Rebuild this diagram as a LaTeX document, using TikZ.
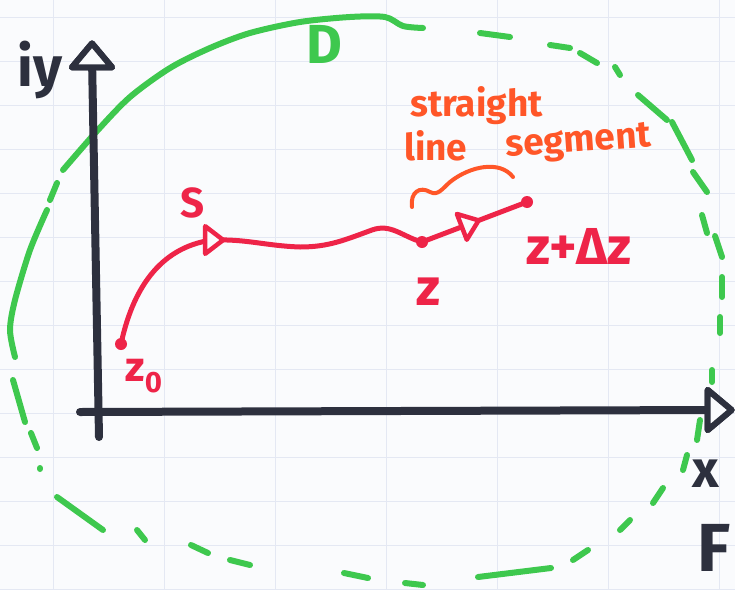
\documentclass[tikz,border=0pt]{standalone}
\usepackage{fontspec}
\setmainfont{Fira Sans}
\usetikzlibrary{arrows.meta,positioning,calc,shapes.geometric}
\definecolor{ink}{RGB}{45,48,62}
\definecolor{pen}{RGB}{238,36,72}
\definecolor{note}{RGB}{255,86,40}
\definecolor{dom}{RGB}{62,200,78}
\definecolor{paper}{RGB}{250,251,253}
\definecolor{rule}{RGB}{228,232,243}
\tikzset{
  axis/.style={draw=ink,line width=8pt,line cap=round},
  axhead/.style={isosceles triangle,draw=ink,fill=paper,line width=6pt,line join=round,
    inner sep=0pt,isosceles triangle apex angle=80,minimum size=24pt},
  zline/.style={draw=pen,line width=5pt,line cap=round},
  bound/.style={draw=dom,line width=6pt,line cap=round},
  dotpt/.style={circle,fill=pen,inner sep=0pt,minimum size=12pt},
  midtri/.style={isosceles triangle,draw=pen,fill=paper,line width=4.5pt,line join=round,
    inner sep=0pt,isosceles triangle apex angle=75,minimum size=18pt},
  lbl/.style={text=pen,font=\fontsize{52}{56}\selectfont\bfseries,inner sep=0pt},
  axlbl/.style={text=ink,font=\fontsize{52}{56}\selectfont\bfseries,inner sep=0pt},
  word/.style={text=note,font=\fontsize{37}{40}\selectfont\bfseries,inner sep=0pt,anchor=base west},
  notebr/.style={draw=note,line width=4pt,line cap=round},
}

\begin{document}
\begin{tikzpicture}[x=1pt,y=-1pt]
\useasboundingbox (0,0) rectangle (735,589);
\fill[paper] (0,0) rectangle (735,589);
% faint squared paper
\foreach \gy in {17,61,...,589} \draw[rule,line width=0.8pt] (0,\gy) -- (735,\gy);
\foreach \gx in {53,164,...,735} \draw[rule,line width=0.8pt] (\gx,0) -- (\gx,589);

% region D
\draw[bound] plot[smooth] coordinates {(63,170) (97,131) (130,97) (170,68) (210,48)
  (250,33) (300,22) (350,17) (385,17) (403,26) (423,28)};
\draw[bound] plot[smooth] coordinates {(47,210) (30,250) (15,300) (10,330) (15,357)};
\foreach \xa/\ya/\xb/\yb in {57/183/50/200, 480/33/510/37, 550/45/570/48, 580/53/597/63,
  615/67/620/75, 638/95/667/120, 672/122/692/160, 693/172/707/192, 702/215/707/233,
  715/236/722/257, 722/277/722/297, 720/317/720/333, 712/370/712/382, 700/420/697/440,
  687/455/683/470, 663/488/653/503, 630/520/620/530, 588/550/573/560, 551/568/478/577,
  423/585/405/583, 368/578/344/573, 250/565/230/560, 208/553/191/545, 145/540/137/530,
  103/530/57/497, 40/468/40/469, 37/448/31/433, 25/422/13/380}
  \draw[bound] (\xa,\ya) -- (\xb,\yb);
\node[text=dom,font=\fontsize{55}{58}\selectfont\bfseries,inner sep=0pt] (dlab) at (324,44) {D};

% axes
\coordinate (ybot) at (99,437);
\coordinate (xlft) at (80,412);
\node[axhead,rotate=90] (yhead) at (92,58) {};
\node[axhead] (xhead) at (717,410) {};
\draw[axis] (ybot) -- (yhead.center);
\draw[axis] (xlft) -- (xhead.center);
\node[axhead,rotate=90] at (yhead) {};
\node[axhead] at (xhead) {};
\node[axlbl,font=\fontsize{56}{60}\selectfont\bfseries] (ylab) at (40,70) {iy};
\node[axlbl] (xlab) at (706,474) {x};
\node[axlbl,font=\fontsize{68}{72}\selectfont\bfseries,anchor=west] (flab) at (697,548) {F};

% path S from z0 through z
\coordinate (z0) at (121,344);
\coordinate (s) at (212,240);
\coordinate (z) at (422,242);
\coordinate (zdz) at (527,202);
\draw[zline] (z0) to[out=78,in=188] (s) to[out=2,in=178] (300,247)
  to[out=0,in=200] (372,230) to[out=20,in=165] (z) -- (zdz);
\node[midtri] (sarr) at (s) {};
\node[midtri,rotate=21] (darr) at ($(z)!0.44!(zdz)$) {};
\foreach \p in {z0,z,zdz} \node[dotpt] at (\p) {};
\node[lbl,font=\fontsize{42}{46}\selectfont\bfseries] (slab) at (193,203) {S};
\node[lbl] (zlab) at (428,292) {z};
\node[lbl] (zdzlab) at (579,246) {z+Δz};
\node[lbl,font=\fontsize{42}{46}\selectfont\bfseries] (z0lab) at (144,376) {z\textsubscript{0}};

% straight line segment note
\node[word] (wst) at (410,116) {straight};
\node[word] (wln) at (404,160) {line};
\node[word,rotate=4] (wsg) at (506,157) {segment};
\coordinate (br1) at (412,207);
\coordinate (br2) at (513,177);
\draw[notebr] (br1) .. controls (410,192) and (420,186) .. (430,192)
  .. controls (438,196) and (442,189) .. (450,182)
  .. controls (470,166) and (500,160) .. (br2);
\end{tikzpicture}
\end{document}
